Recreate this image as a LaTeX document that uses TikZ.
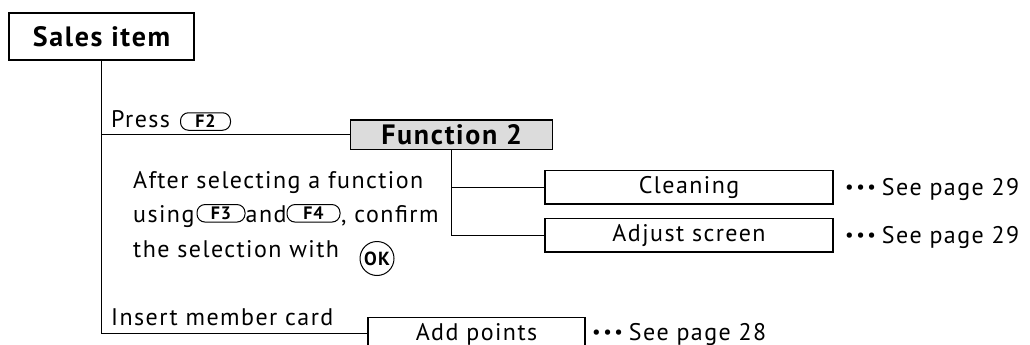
\documentclass[tikz,border=0pt]{standalone}
\usepackage{fontspec}
\setmainfont{PT Sans}[LetterSpace=6]
\usepackage{tikz}
\usetikzlibrary{positioning, shapes, calc}
\definecolor{mygray}{RGB}{220,220,220}
\tikzset{
  titlebox/.style={draw, line width=1.5pt, inner sep=0, minimum height=47, 
    font=\fontsize{28}{28}\selectfont\bfseries},
  itembox/.style={draw, line width=1.3pt, inner sep=0, minimum height=33.3, 
    font=\fontsize{24}{24}\selectfont},
  keycap/.style={draw, line width=1pt, rounded corners=8pt, inner sep=0, 
    minimum width=50, minimum height=17.5, font=\fontsize{18}{18}\selectfont\bfseries},
  okkey/.style={draw, circle, line width=1pt, inner sep=0, minimum size=34, 
    font=\fontsize{19}{19}\selectfont\bfseries},
  plain/.style={inner sep=0, anchor=base west, font=\fontsize{24}{24}\selectfont},
  link/.style={line width=1.2pt}
}
\newcommand{\seedots}{{\fontsize{19}{19}\selectfont\raisebox{2pt}{\textbullet\hspace{2.5pt}\textbullet\hspace{2.5pt}\textbullet}}\hspace{6pt}}

\begin{document}
\begin{tikzpicture}[x=1pt,y=-1pt]
\useasboundingbox (0,0) rectangle (1030,345);
\clip (0,0) rectangle (1030,345);


\node [titlebox, minimum width=185] (sales) at (101.5,36.3) {Sales item};


\node [plain] (press) at (111,127.3) {Press};
\node [keycap] (keyf2) at (205.5,121.5) {F2};
\node [titlebox, fill=mygray, minimum width=202, minimum height=29.3] (func) at (451.7,134.7) {Function 2};


\node [plain] (line1) at (133,188) {After selecting a function};
\node [plain] (using) at (133,222) {using};
\node [keycap, minimum width=48] (keyf3) at (221,213.3) {F3};
\node [plain] (and) at (245.5,222) {and};
\node [keycap, minimum width=53] (keyf4) at (313.5,213.3) {F4};
\node [plain] (confirm) at (341,222) {, confirm};
\node [plain] (line3) at (133,257) {the selection with};
\node [okkey] (keyok) at (377,258.5) {OK};


\node [itembox, minimum width=288] (clean) at (689,187.3) {Cleaning};
\node [itembox, minimum width=288] (adjust) at (689,235.3) {Adjust screen};
\node [plain] (see1) at (845,195.5) {\seedots See page 29};
\node [plain] (see2) at (845,243.5) {\seedots See page 29};


\node [plain] (card) at (111,325) {Insert member card};
\node [itembox, minimum width=217, minimum height=51.4, anchor=north] (addpts) at (476.5,316.7) {};
\node [plain, anchor=base] (addtxt) at (476.5,340) {Add points};
\node [plain] (see3) at (592,340) {\seedots See page 28};
\coordinate (cardjoin) at (368,333.3);


%\draw [link] (sales.south) -- (101.5,333.3);
\draw [link] (sales.south) |- (cardjoin);
\draw [link] (sales.south |- func.west) -- (func.west);
\draw [link] (func.south) |- (clean.west);
\draw [link] (func.south) |- (adjust.west);


\end{tikzpicture}
\end{document}
